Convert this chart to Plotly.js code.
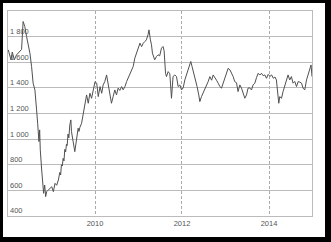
<!DOCTYPE html>
<html>
<head>
<meta charset="utf-8">
<script src="https://cdn.plot.ly/plotly-3.0.1.min.js"></script>
<style>
html, body { margin: 0; padding: 0; width: 331px; height: 242px; background: #000; overflow: hidden; }
#chart { position: absolute; left: 3px; top: 3px; width: 322px; height: 234px; background: #fff; }
</style>
</head>
<body>
<div id="chart"></div>
<script>
const dates = [
"2008-01-03","2008-01-17","2008-01-26","2008-02-06","2008-02-23","2008-03-13","2008-03-26","2008-04-10","2008-04-24",
"2008-05-07","2008-05-21","2008-06-05","2008-06-18","2008-07-03","2008-07-17","2008-07-30","2008-08-14","2008-08-22",
"2008-08-28","2008-09-06","2008-09-11","2008-09-17","2008-09-23","2008-09-28","2008-10-10","2008-10-18","2008-10-26",
"2008-11-04","2008-11-12","2008-11-21","2008-12-04","2008-12-18","2009-01-02","2009-01-16","2009-01-30","2009-02-13",
"2009-02-27","2009-03-11","2009-03-18","2009-03-25","2009-04-01","2009-04-08","2009-04-15","2009-04-22","2009-04-29","2009-05-06","2009-05-12","2009-05-19","2009-05-26","2009-06-03","2009-06-12",
"2009-06-17","2009-07-01","2009-07-15","2009-07-29","2009-08-05","2009-08-12","2009-08-19","2009-08-26","2009-09-10","2009-09-23","2009-10-08",
"2009-10-22","2009-11-05","2009-11-19","2009-12-03","2009-12-16","2010-01-01","2010-01-15","2010-01-28","2010-02-12",
"2010-02-26","2010-03-10","2010-03-24","2010-04-08","2010-04-21","2010-05-05","2010-05-19","2010-06-02","2010-06-16",
"2010-06-30","2010-07-14","2010-07-28","2010-08-12","2010-08-25","2010-09-09","2010-09-23","2010-10-06","2010-10-20",
"2010-11-04","2010-11-17","2010-12-01","2010-12-15","2010-12-29","2011-01-13","2011-01-27","2011-02-10","2011-02-24",
"2011-03-08","2011-03-22","2011-03-30","2011-04-11","2011-04-20","2011-04-28","2011-05-09","2011-05-17","2011-06-01",
"2011-06-14","2011-06-28","2011-07-13","2011-07-26","2011-08-04","2011-08-16","2011-08-24","2011-09-07","2011-09-21",
"2011-10-05","2011-10-18","2011-11-02","2011-11-16","2011-11-30","2011-12-14","2011-12-28","2012-01-11","2012-01-25",
"2012-02-09","2012-02-22","2012-03-07","2012-03-15","2012-03-26","2012-04-10","2012-04-24","2012-05-07","2012-05-21",
"2012-05-30","2012-06-13","2012-06-27","2012-07-11","2012-07-25","2012-08-08","2012-08-22","2012-09-06","2012-09-19",
"2012-10-03","2012-10-17","2012-10-31","2012-11-14","2012-11-28","2012-12-12","2012-12-26","2013-01-10","2013-01-23",
"2013-02-07","2013-02-21","2013-03-05","2013-03-19","2013-04-03","2013-04-16","2013-05-01","2013-05-15","2013-05-28",
"2013-06-12","2013-06-26","2013-07-09","2013-07-23","2013-08-07","2013-08-20","2013-09-04","2013-09-18","2013-10-02",
"2013-10-16","2013-10-30","2013-11-13","2013-11-27","2013-12-11","2013-12-25","2014-01-09","2014-01-23","2014-02-06",
"2014-02-20","2014-03-04","2014-03-18","2014-03-24","2014-04-01","2014-04-16","2014-04-29","2014-05-13","2014-05-27",
"2014-06-10","2014-06-24","2014-07-08","2014-07-22","2014-08-05","2014-08-20","2014-09-03","2014-09-17","2014-10-01",
"2014-10-14","2014-10-28","2014-11-12","2014-11-25","2014-12-10","2014-12-20","2014-12-28"
];
const values = [
1697,1658,1619,1680,1619,1658,1671,1684,1700,
1918,1879,1800,1749,1671,1566,1437,1384,1319,
1228,1124,1020,981,1072,916,759,655,577,
642,551,590,600,610,629,590,655,640,
681,740,720,800,790,850,830,920,900,960,950,1040,1010,1111,1150,
1059,960,902,994,1040,1085,1060,1090,1124,1202,1280,
1345,1280,1358,1319,1371,1449,1437,1332,1410,
1358,1423,1449,1501,1437,1371,1280,1332,1384,
1345,1398,1380,1410,1385,1410,1449,1475,1514,
1540,1566,1632,1671,1710,1749,1722,1749,1762,
1775,1814,1853,1775,1736,1671,1632,1619,1645,
1658,1650,1710,1723,1690,1514,1488,1527,1510,
1319,1488,1501,1488,1410,1423,1384,1400,1462,
1501,1540,1579,1606,1566,1514,1475,1410,1345,
1293,1332,1358,1384,1420,1449,1488,1460,1501,
1475,1460,1437,1410,1398,1437,1488,1527,1553,
1540,1514,1490,1449,1440,1371,1423,1398,1358,
1319,1345,1398,1400,1384,1423,1437,1480,1514,
1500,1514,1495,1501,1475,1505,1490,1501,1475,
1485,1462,1358,1280,1332,1319,1371,1410,1462,
1501,1462,1488,1437,1450,1410,1449,1445,1437,
1398,1384,1462,1501,1553,1579,1488
];
const yTickVals = [400, 600, 800, 1000, 1200, 1400, 1600, 1800];
const yTickText = ["400", "600", "800", "1 000", "1 200", "1 400", "1 600", "1 800"];
const xTickVals = ["2010-01-01", "2012-01-01", "2014-01-01"];
const xTickText = ["2010", "2012", "2014"];

const trace = {
  x: dates, y: values, type: "scatter", mode: "lines",
  line: { color: "#505050", width: 1 }, hoverinfo: "skip"
};
const layout = {
  width: 322, height: 234,
  margin: { l: 5, r: 13, t: 8, b: 21, pad: 0 },
  paper_bgcolor: "#fff", plot_bgcolor: "#fff",
  showlegend: false,
  font: { family: "Liberation Sans, Arial, sans-serif", size: 7.5, color: "#555" },
  xaxis: {
    type: "date", range: ["2008-01-01", "2014-12-28"],
    tickvals: xTickVals, ticktext: xTickText,
    tickfont: { color: "#555" },
    showgrid: true, gridcolor: "#aaa", griddash: "3px,2px", gridwidth: 1,
    showline: true, linecolor: "#bbb", linewidth: 1, mirror: true,
    ticks: "", zeroline: false, fixedrange: true
  },
  yaxis: {
    range: [400, 2000],
    tickvals: yTickVals, ticktext: yTickText,
    tickfont: { color: "#555" },
    ticklabelposition: "inside top",
    showgrid: true, gridcolor: "#bbb", gridwidth: 1,
    showline: true, linecolor: "#bbb", linewidth: 1, mirror: true,
    ticks: "", zeroline: false, fixedrange: true
  }
};
Plotly.newPlot("chart", [trace], layout, { staticPlot: true, displayModeBar: false });
</script>
</body>
</html>
